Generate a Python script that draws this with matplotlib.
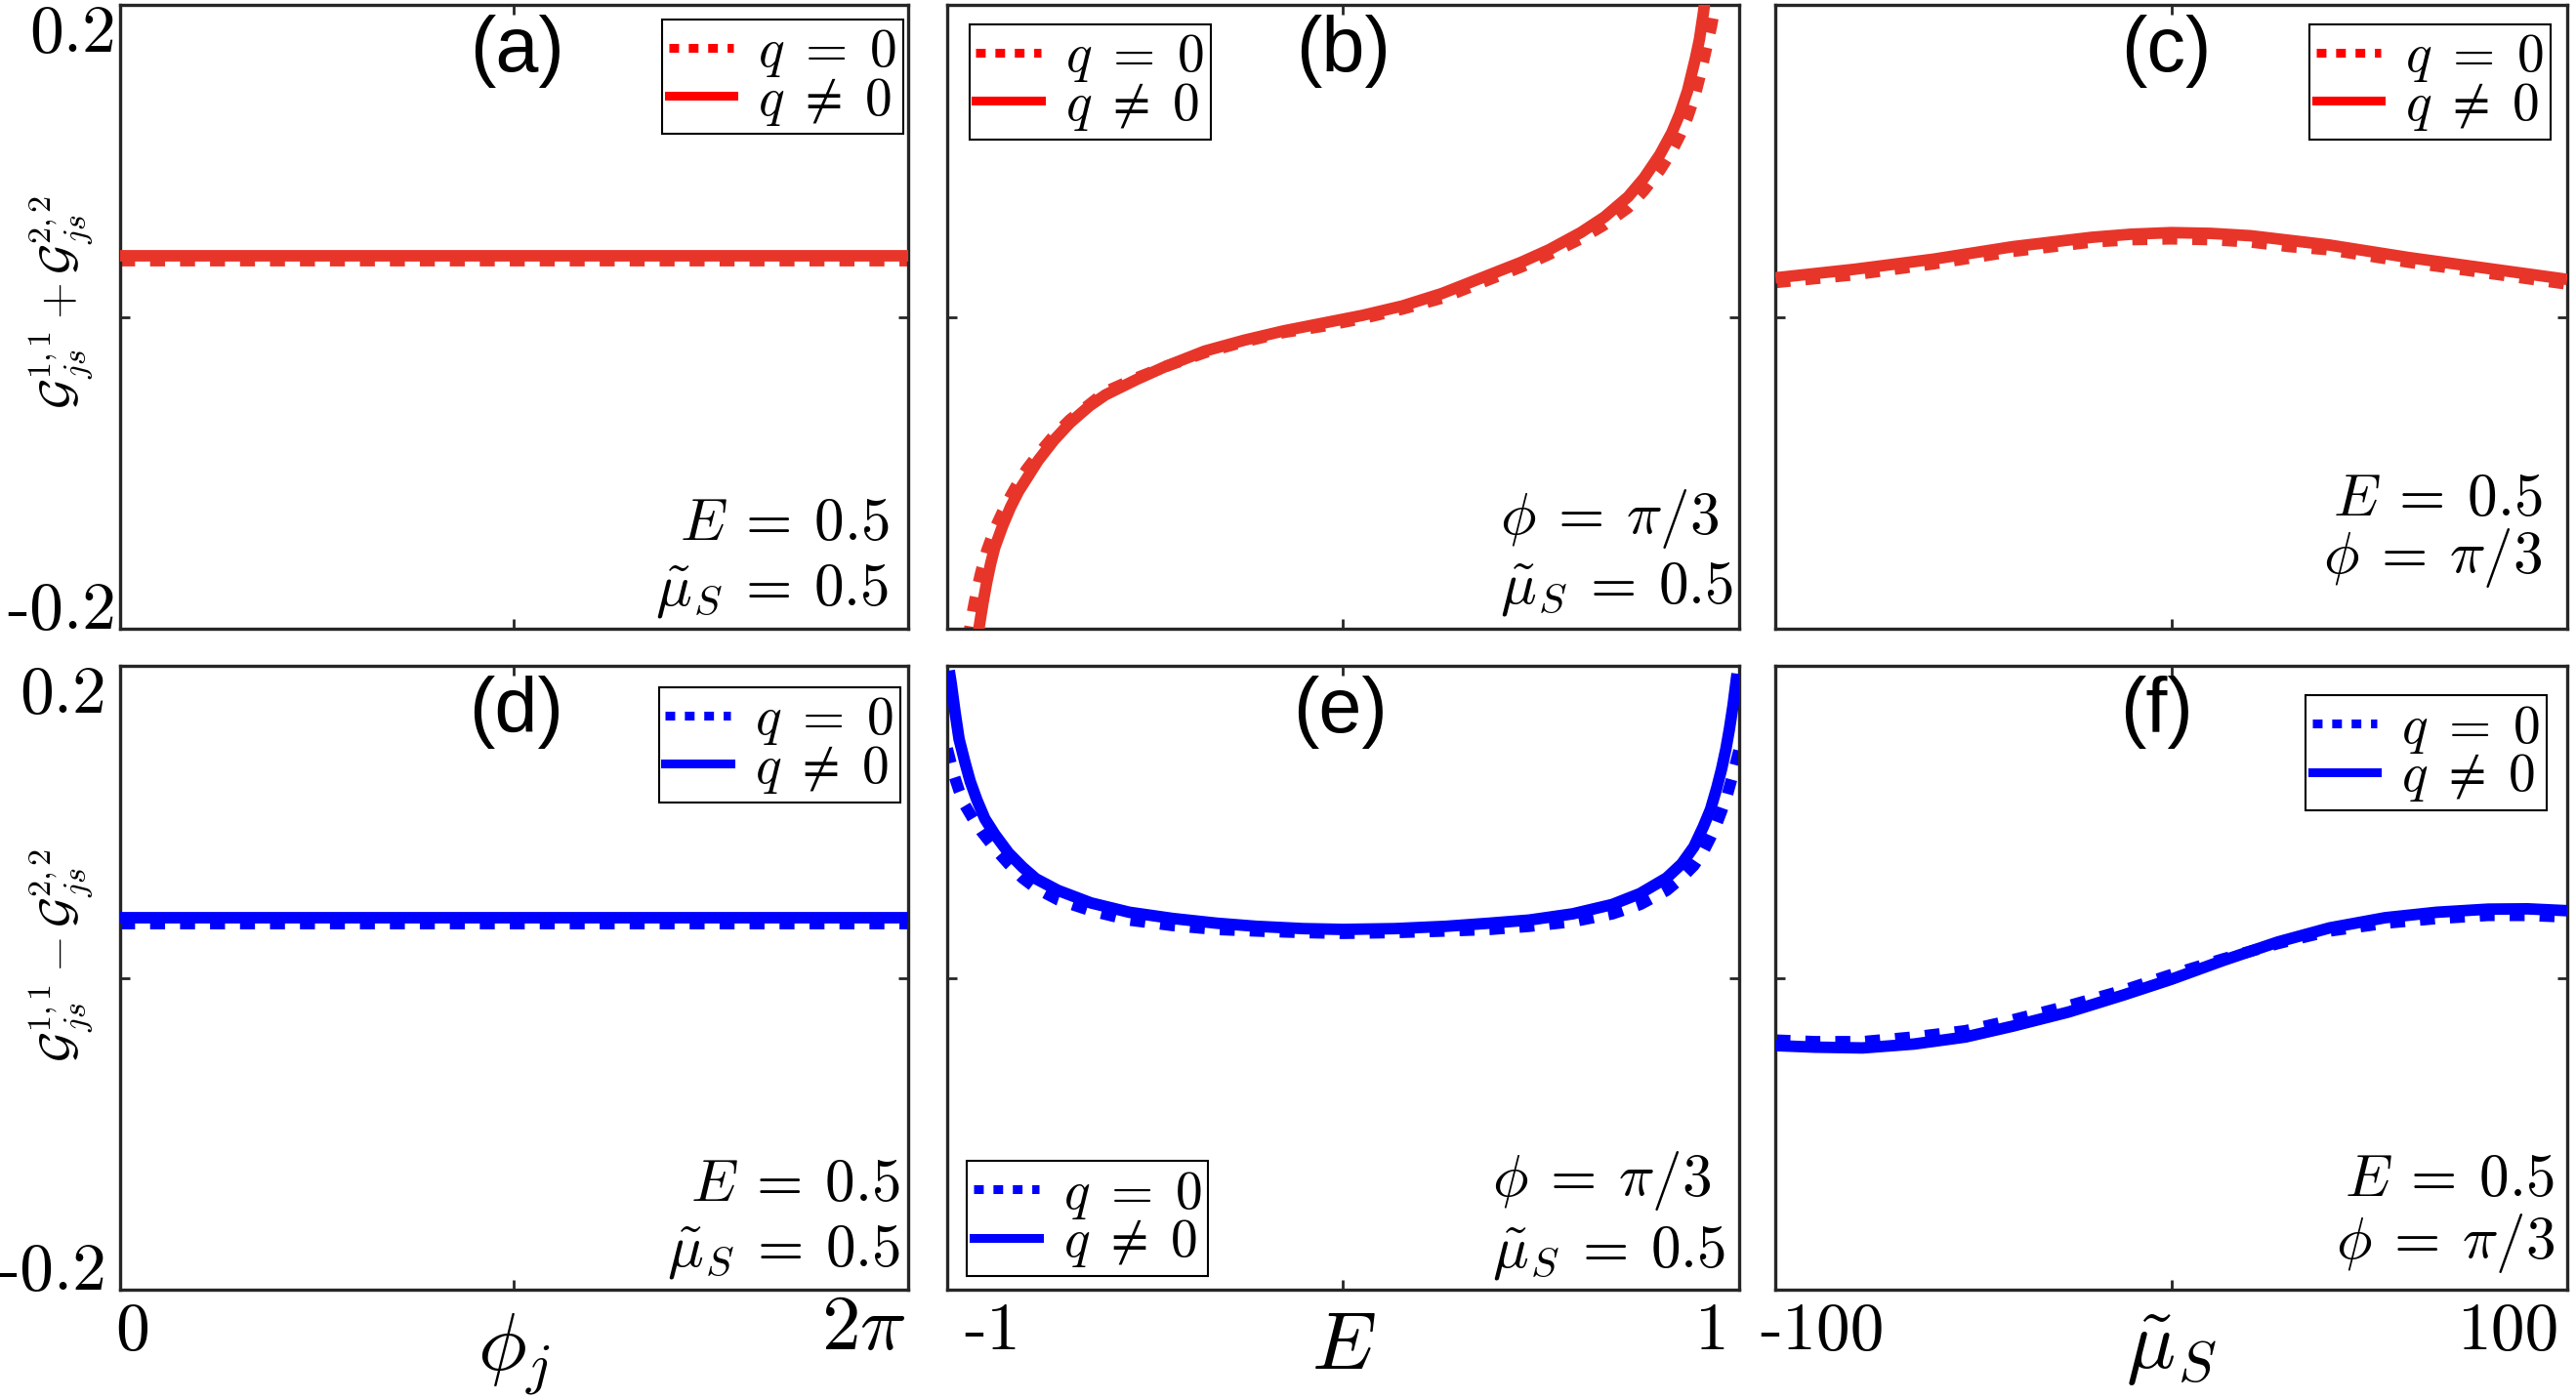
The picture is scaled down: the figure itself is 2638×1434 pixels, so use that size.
import numpy as np
import matplotlib
matplotlib.use('Agg')
import matplotlib.pyplot as plt
from matplotlib.lines import Line2D

plt.rcParams['mathtext.fontset'] = 'cm'
plt.rcParams['axes.unicode_minus'] = False

RED = '#e8352a'
BLUE = '#0000ff'

# ---------------- data ----------------
# (a), (d): flat in phi_j
phi_j = [0, np.pi / 2, np.pi, 3 * np.pi / 2, 2 * np.pi]
sum_phi_q0 = [0.036, 0.036, 0.036, 0.036, 0.036]
sum_phi_q = [0.039, 0.039, 0.039, 0.039, 0.039]
diff_phi_q0 = [0.035, 0.035, 0.035, 0.035, 0.035]
diff_phi_q = [0.0385, 0.0385, 0.0385, 0.0385, 0.0385]

# (b): sum vs E
E_sum_q0 = [-0.947, -0.943, -0.935, -0.925, -0.915, -0.90, -0.88, -0.86, -0.84, -0.82, -0.80,
            -0.77, -0.73, -0.69, -0.64, -0.60, -0.52, -0.45, -0.35, -0.25, -0.15, -0.05,
            0.05, 0.15, 0.25, 0.35, 0.45, 0.52, 0.60, 0.66, 0.72, 0.76, 0.80, 0.83, 0.85,
            0.87, 0.89, 0.905, 0.92, 0.93, 0.94, 0.945]
sum_E_q0 = [-0.208, -0.200, -0.188, -0.175, -0.164, -0.150, -0.136, -0.125, -0.115, -0.106, -0.098,
            -0.088, -0.076, -0.066, -0.056, -0.048, -0.039, -0.032, -0.023, -0.016, -0.010, -0.006,
            -0.001, 0.005, 0.012, 0.022, 0.032, 0.040, 0.050, 0.059, 0.070, 0.081, 0.094, 0.106, 0.116,
            0.128, 0.143, 0.158, 0.175, 0.186, 0.200, 0.208]
E_sum_q = [-0.925, -0.92, -0.91, -0.90, -0.89, -0.88, -0.86, -0.84, -0.82, -0.80, -0.77,
           -0.73, -0.69, -0.64, -0.60, -0.52, -0.45, -0.35, -0.25, -0.15, -0.05, 0.05,
           0.15, 0.25, 0.35, 0.45, 0.52, 0.60, 0.66, 0.72, 0.76, 0.80, 0.83, 0.85, 0.87,
           0.89, 0.90, 0.91, 0.915, 0.92]
sum_E_q = [-0.212, -0.200, -0.184, -0.170, -0.158, -0.148, -0.134, -0.122, -0.112, -0.104, -0.092,
           -0.079, -0.068, -0.057, -0.050, -0.040, -0.032, -0.022, -0.015, -0.009, -0.004, 0.001,
           0.007, 0.015, 0.025, 0.035, 0.043, 0.054, 0.064, 0.077, 0.089, 0.104, 0.118, 0.130, 0.145,
           0.166, 0.178, 0.195, 0.205, 0.215]

# (c): sum vs mu_S
mu_c = [-100, -80, -60, -40, -30, -20, -10, 0, 10, 20, 30, 40, 60, 80, 100]
sum_mu_q0 = [0.022, 0.027, 0.034, 0.042, 0.045, 0.048, 0.0495, 0.050, 0.0495, 0.048, 0.045, 0.043,
             0.035, 0.028, 0.021]
sum_mu_q = [0.025, 0.0305, 0.037, 0.045, 0.048, 0.051, 0.053, 0.054, 0.0535, 0.052, 0.049, 0.046,
            0.038, 0.031, 0.024]

# (e): difference vs E
E_diff_q0 = [-1.0, -0.99, -0.983, -0.97, -0.956, -0.935, -0.914, -0.88, -0.845, -0.81, -0.776,
             -0.72, -0.637, -0.54, -0.43, -0.32, -0.22, -0.1, 0.0, 0.13, 0.26, 0.37, 0.47,
             0.58, 0.68, 0.75, 0.817, 0.855, 0.886, 0.91, 0.928, 0.944, 0.956, 0.97, 0.983,
             0.993, 1.0]
diff_E_q0 = [0.147, 0.137, 0.130, 0.120, 0.111, 0.102, 0.094, 0.083, 0.073, 0.064, 0.0575,
             0.050, 0.043, 0.037, 0.0335, 0.031, 0.030, 0.029, 0.0285, 0.029, 0.030, 0.031, 0.033,
             0.036, 0.041, 0.047, 0.056, 0.064, 0.072, 0.081, 0.090, 0.099, 0.107, 0.117, 0.129,
             0.139, 0.146]
E_diff_q = [-0.995, -0.99, -0.98, -0.97, -0.955, -0.942, -0.925, -0.905, -0.88, -0.845, -0.81,
            -0.776, -0.72, -0.637, -0.54, -0.43, -0.32, -0.22, -0.1, 0.0, 0.13, 0.26, 0.37,
            0.47, 0.58, 0.68, 0.75, 0.817, 0.855, 0.886, 0.91, 0.928, 0.944, 0.956, 0.967,
            0.976, 0.985, 0.99, 0.995]
diff_E_q = [0.197, 0.189, 0.170, 0.153, 0.138, 0.126, 0.114, 0.102, 0.092, 0.080, 0.071,
            0.0635, 0.056, 0.048, 0.042, 0.038, 0.035, 0.033, 0.0315, 0.031, 0.0315, 0.033, 0.035,
            0.037, 0.041, 0.047, 0.054, 0.064, 0.073, 0.084, 0.097, 0.108, 0.122, 0.134, 0.147,
            0.160, 0.175, 0.185, 0.195]

# (f): difference vs mu_S
mu_f = [-100, -90, -78, -65, -52, -40, -26, -12, 0, 13, 27, 40, 54, 67, 80, 90, 100]
diff_mu_q0 = [-0.040, -0.041, -0.041, -0.038, -0.034, -0.027, -0.018, -0.008, 0.002, 0.012, 0.022,
              0.030, 0.035, 0.038, 0.040, 0.040, 0.039]
diff_mu_q = [-0.0435, -0.0445, -0.045, -0.0425, -0.038, -0.031, -0.022, -0.011, -0.001, 0.011, 0.023,
             0.032, 0.0385, 0.042, 0.044, 0.0442, 0.043]

panel_tags = ['(a)', '(b)', '(c)', '(d)', '(e)', '(f)']
x_ranges = [(0, 2 * np.pi), (-1, 1), (-100, 100)]
x_end_labels = [('0', r'$2\pi$'), ('-1', '1'), ('-100', '100')]
x_names = [r'$\phi_j$', r'$E$', r'$\tilde{\mu}_S$']
y_names = [r'$\mathcal{G}_{js}^{1,1}+\mathcal{G}_{js}^{2,2}$',
           r'$\mathcal{G}_{js}^{1,1}-\mathcal{G}_{js}^{2,2}$']
E_note = r'$E\:=\:0.5$'
mu_note = r'$\tilde{\mu}_S\:=\:0.5$'
phi_note = r'$\phi\:=\:\pi/3$'
notes = [[E_note, mu_note], [phi_note, mu_note], [E_note, phi_note],
         [E_note, mu_note], [phi_note, mu_note], [E_note, phi_note]]
legend_labels = [r'$q\;=\;0$', r'$q\;\neq\;0$']

series = [
    (phi_j, sum_phi_q0, phi_j, sum_phi_q),
    (E_sum_q0, sum_E_q0, E_sum_q, sum_E_q),
    (mu_c, sum_mu_q0, mu_c, sum_mu_q),
    (phi_j, diff_phi_q0, phi_j, diff_phi_q),
    (E_diff_q0, diff_E_q0, E_diff_q, diff_E_q),
    (mu_f, diff_mu_q0, mu_f, diff_mu_q),
]

# layout (figure fractions)
lefts = [0.0466, 0.3677, 0.6892]
widths = [0.3059, 0.3074, 0.3074]
bottoms = [0.5509, 0.0788]
height = 0.4456

# placement of decorations (axes fractions)
tag_x = [0.504, 0.50, 0.494, 0.503, 0.496, 0.481]
note_pos = [(0.976, 'right', 0.142, 0.038), (0.698, 'left', 0.152, 0.041),
            (0.969, 'right', 0.181, 0.089), (0.990, 'right', 0.142, 0.038),
            (0.688, 'left', 0.150, 0.036), (0.984, 'right', 0.150, 0.050)]
legend_pos = [('upper right', (0.994, 0.977)), ('upper left', (0.028, 0.969)),
              ('upper right', (0.979, 0.969)), ('upper right', (0.990, 0.966)),
              ('lower left', (0.025, 0.022)), ('upper right', (0.974, 0.953))]
xlab_pos = [(0.0155, 'center'), (0.9975, 'right'), (0.021, 'left'), (0.988, 'right'),
            (-0.019, 'left'), (0.990, 'right')]

fig = plt.figure(figsize=(26.38, 14.34), dpi=100)

for k in range(6):
    row, col = divmod(k, 3)
    ax = fig.add_axes([lefts[col], bottoms[row], widths[col], height])
    color = RED if row == 0 else BLUE
    xd0, yd0, xd1, yd1 = series[k]
    ax.plot(xd0, yd0, color=color, lw=8.5, linestyle=(0, (1.3, 1.3)), zorder=2)
    ax.plot(xd1, yd1, color=color, lw=8.5, solid_capstyle='butt', zorder=3)

    lo, hi = x_ranges[col]
    ax.set_xlim(lo, hi)
    ax.set_ylim(-0.2, 0.2)
    ax.set_xticks([(lo + hi) / 2])
    ax.set_xticklabels([''])
    ax.tick_params(direction='in', top=True, right=True, length=7, width=2,
                   color='#262626')
    for sp in ax.spines.values():
        sp.set_linewidth(2.4)
        sp.set_color('#262626')

    if col == 0:
        ax.set_yticks([-0.2, 0, 0.2])
        lbls = ax.set_yticklabels(['-0.2', '', '0.2'], fontfamily='cmr10', fontsize=50)
        lbls[0].set_verticalalignment('baseline')
        lbls[2].set_verticalalignment('top')
        ax.tick_params(axis='y', pad=3 if row == 0 else 10)
        ax.set_ylabel(y_names[row], fontsize=35)
        ax.yaxis.set_label_coords(-0.032, 0.523 if row == 0 else 0.536)
    else:
        ax.set_yticks([0])
        ax.set_yticklabels([''])

    if row == 1:
        for j in range(2):
            xp, ha = xlab_pos[2 * col + j]
            txt = x_end_labels[col][j]
            if txt.startswith('$'):
                ax.text(xp, -0.0955, txt, transform=ax.transAxes, ha=ha, va='baseline',
                        fontsize=57)
            else:
                ax.text(xp, -0.0955, txt, transform=ax.transAxes, ha=ha, va='baseline',
                        fontsize=50, fontfamily='cmr10')
        ax.set_xlabel(x_names[col], fontsize=60, va='baseline')
        ax.xaxis.set_label_coords(0.5, -0.127)

    ax.text(tag_x[k], 0.984, panel_tags[k], transform=ax.transAxes, ha='center', va='top',
            fontsize=57, fontfamily='Liberation Sans')

    nx, nha, ny1, ny2 = note_pos[k]
    ax.text(nx, ny1, notes[k][0], transform=ax.transAxes, ha=nha, va='baseline', fontsize=44)
    ax.text(nx, ny2, notes[k][1], transform=ax.transAxes, ha=nha, va='baseline', fontsize=44)

    hcol = 'red' if row == 0 else BLUE
    handles = [Line2D([], [], color=hcol, lw=6.5, linestyle=(0, (1.1, 1.1))),
               Line2D([], [], color=hcol, lw=6.5)]
    loc, anchor = legend_pos[k]
    leg = ax.legend(handles, legend_labels, loc=loc, bbox_to_anchor=anchor,
                    borderaxespad=0, fontsize=40, handlelength=1.2, handletextpad=0.45,
                    borderpad=0.12, labelspacing=-0.1, fancybox=False, framealpha=1,
                    edgecolor='black')
    leg.get_frame().set_linewidth(1.5)

fig.savefig('out.png', dpi=100)
